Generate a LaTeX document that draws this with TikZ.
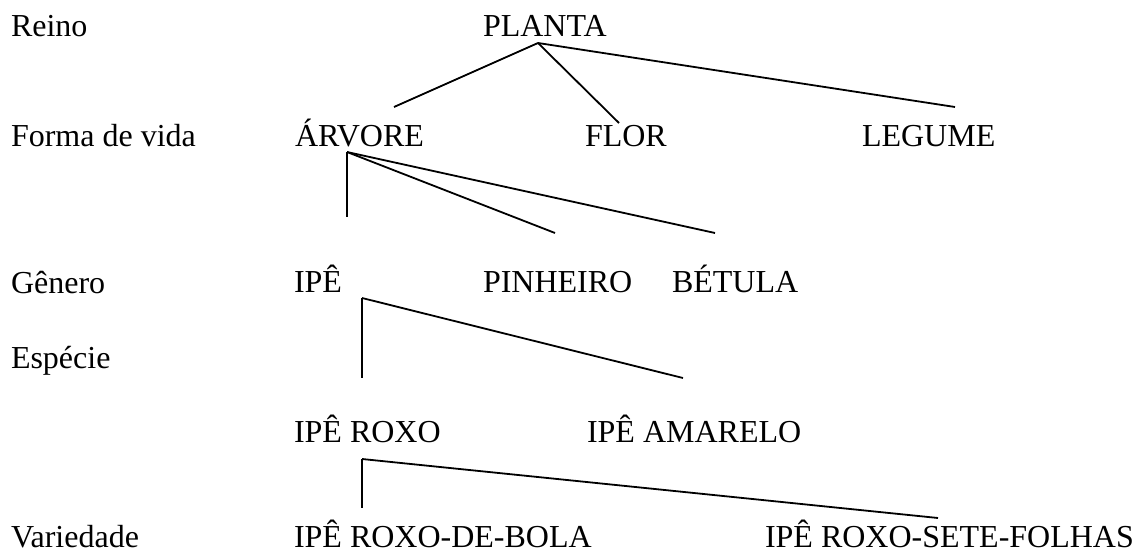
\documentclass[tikz,border=0pt]{standalone}
\usepackage{fontspec}
\setmainfont{Liberation Serif}
\begin{document}
\begin{tikzpicture}[x=1pt,y=-1pt,
  lbl/.style={anchor=base west,inner sep=0pt,outer sep=0pt,font=\fontsize{32}{32}\selectfont},
  conn/.style={line width=1.8pt}]
\useasboundingbox[fill=white] (0,0) rectangle (1138,553);
% level labels
\node[lbl] (reino) at (11,37) {Reino};
\node[lbl] (forma) at (11,147) {Forma de vida};
\node[lbl] (genero) at (11,294) {Gênero};
\node[lbl] (especie) at (11,368) {Espécie};
\node[lbl] (variedade) at (11,547) {Variedade};
% tree nodes
\node[lbl] (planta) at (483,37) {PLANTA};
\node[lbl] (arvore) at (295,147) {ÁRVORE};
\node[lbl] (flor) at (585,147) {FLOR};
\node[lbl] (legume) at (862,147) {LEGUME};
\node[lbl] (ipe) at (294,293) {IPÊ};
\node[lbl] (pinheiro) at (483,293) {PINHEIRO};
\node[lbl] (betula) at (672,293) {BÉTULA};
\node[lbl] (iperoxo) at (294,442) {IPÊ ROXO};
\node[lbl] (ipeamarelo) at (587,442) {IPÊ AMARELO};
\node[lbl] (ipebola) at (294,547) {IPÊ ROXO-DE-BOLA};
\node[lbl] (ipesete) at (765,547) {IPÊ ROXO-SETE-FOLHAS};
% connector points
\coordinate (pA) at (538,43);
\coordinate (pArv) at (394,107);
\coordinate (pFlor) at (619,123);
\coordinate (pLeg) at (955,107);
\coordinate (aA) at (347,152);
\coordinate (aIpe) at (347,217);
\coordinate (aPin) at (555,233);
\coordinate (aBet) at (715,233);
\coordinate (iA) at (362,298);
\coordinate (iRoxo) at (362,378);
\coordinate (iAma) at (683,378);
\coordinate (rA) at (362,459);
\coordinate (rBola) at (362,508);
\coordinate (rSete) at (938,518);
% connectors
\draw[conn] (pA) -- (pArv);
\draw[conn] (pA) -- (pFlor);
\draw[conn] (pA) -- (pLeg);
\draw[conn] (aA) -- (aIpe);
\draw[conn] (aA) -- (aPin);
\draw[conn] (aA) -- (aBet);
\draw[conn] (iA) -- (iRoxo);
\draw[conn] (iA) -- (iAma);
\draw[conn] (rA) -- (rBola);
\draw[conn] (rA) -- (rSete);
\end{tikzpicture}
\end{document}
